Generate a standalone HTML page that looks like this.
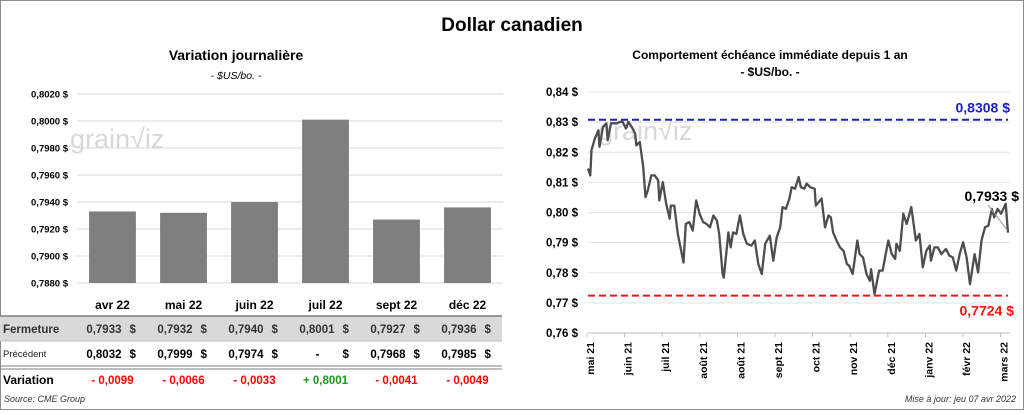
<!DOCTYPE html>
<html><head><meta charset="utf-8"><style>
body{margin:0;width:1024px;height:410px;overflow:hidden;background:#fff;font-family:"Liberation Sans",sans-serif}
svg text{font-family:"Liberation Sans",sans-serif}
</style></head><body>
<svg id="s" width="1024" height="410" viewBox="0 0 1024 410" xmlns="http://www.w3.org/2000/svg">
<rect x="0.5" y="0.5" width="1023" height="409" fill="#fff" stroke="#8c8c8c"/>
<text x="512" y="31" text-anchor="middle" font-size="19" font-weight="bold" fill="#000">Dollar canadien</text>
<text x="236" y="60" text-anchor="middle" font-size="14" font-weight="bold">Variation  journalière</text>
<text x="236" y="79" text-anchor="middle" font-size="10.5" font-style="italic">- $US/bo. -</text>
<text x="770" y="59" text-anchor="middle" font-size="12" font-weight="bold">Comportement échéance immédiate depuis 1 an</text>
<text x="770" y="76" text-anchor="middle" font-size="12" font-weight="bold">- $US/bo. -</text>
<g id="left"></g>
<g id="right"></g>
<g id="tbl"></g>
<text x="4" y="402" font-size="9" font-style="italic" fill="#333">Source: CME Group</text>
<text x="1016" y="402" text-anchor="end" font-size="9" font-style="italic" fill="#333">Mise à jour: jeu 07 avr 2022</text>
</svg>
<script>
const barCats=["avr 22","mai 22","juin 22","juil 22","sept 22","déc 22"];
const closeVals=[0.7933,0.7932,0.7940,0.8001,0.7927,0.7936];
const prevVals=["0,8032","0,7999","0,7974","-","0,7968","0,7985"];
const varLabels=["- 0,0099","- 0,0066","- 0,0033","+ 0,8001","- 0,0041","- 0,0049"];
const barTicks=[0.7880,0.7900,0.7920,0.7940,0.7960,0.7980,0.8000,0.8020];
const lineDays=[0,2,3,6,9,10,13,16,17,20,25,28,30,33,35,38,41,42,45,48,50,52,55,58,61,62,65,68,71,72,75,78,83,85,88,91,94,97,100,103,106,109,112,114,117,118,122,124,126,129,132,135,138,142,145,148,151,154,158,161,164,167,169,172,175,177,180,183,185,188,190,193,197,198,203,206,209,211,213,216,219,222,225,227,230,234,236,239,242,245,246,249,253,256,261,264,267,268,271,274,277,281,285,288,291,294,297,298,301,304,307,311,314,317,320,323,326,329,332,336,339,342,345,348,351,353,356,359,363,365];
const lineVals=[0.8146,0.8123,0.8207,0.8246,0.8273,0.8218,0.8284,0.8296,0.8240,0.8296,0.8296,0.8301,0.8301,0.8279,0.8301,0.8284,0.8262,0.8223,0.8234,0.8151,0.8051,0.8073,0.8123,0.8123,0.8107,0.8040,0.8101,0.8029,0.7979,0.8023,0.8023,0.7929,0.7834,0.7962,0.7968,0.7940,0.8040,0.7996,0.7968,0.7962,0.7951,0.7990,0.7973,0.7929,0.7796,0.7784,0.7934,0.7884,0.7934,0.7929,0.7990,0.7929,0.7896,0.7890,0.7907,0.7829,0.7796,0.7896,0.7923,0.7840,0.7918,0.7951,0.8018,0.8012,0.8046,0.8084,0.8079,0.8118,0.8084,0.8079,0.8096,0.8084,0.8079,0.8023,0.8046,0.7951,0.7990,0.7984,0.7934,0.7907,0.7884,0.7873,0.7829,0.7823,0.7796,0.7907,0.7862,0.7851,0.7796,0.7773,0.7812,0.7729,0.7807,0.7807,0.7907,0.7862,0.7846,0.7896,0.7873,0.7996,0.7962,0.8018,0.7907,0.7929,0.7818,0.7873,0.7890,0.7840,0.7884,0.7884,0.7862,0.7879,0.7857,0.7851,0.7807,0.7862,0.7901,0.7851,0.7762,0.7862,0.7801,0.7907,0.7951,0.7957,0.8012,0.7984,0.8012,0.7996,0.8029,0.7933];
const lineTicks=[0.76,0.77,0.78,0.79,0.80,0.81,0.82,0.83,0.84];
const monthLabels=["mai 21","juin 21","juil 21","août 21","août 21","sept 21","oct 21","nov 21","déc 21","janv 22","févr 22","mars 22"];
const hiVal=0.8308, loVal=0.7724, lastVal=0.7933;

const NS="http://www.w3.org/2000/svg";
function mk(tag,attrs,parent,txt){const e=document.createElementNS(NS,tag);for(const k in attrs)e.setAttribute(k,attrs[k]);if(txt!==undefined)e.textContent=txt;parent.appendChild(e);return e;}
const fmt=(v,d)=>v.toFixed(d).replace('.',',');

// left bar chart
const L=document.getElementById('left');
const bx0=77,bx1=503,by=v=>283-(v-0.7880)/0.0140*189;
const bw=(bx1-bx0)/barCats.length;
barTicks.forEach(t=>{
 const g=mk('line',{x1:bx0,x2:bx1,y1:by(t),y2:by(t),stroke:'#d9d9d9','stroke-width':1},L);
 
 
 const tx=mk('text',{x:68,y:by(t)+3.5,'text-anchor':'end','font-size':9.5,'font-weight':'bold'},L,fmt(t,4)+' $');
 
 
});
mk('text',{x:70,y:148,'font-size':27,fill:'#d8d8d8'},L,'grain√iz');
closeVals.forEach((v,i)=>{
 const x=bx0+bw*i+bw*0.17;
 const r=mk('rect',{x:x,y:by(v),width:bw*0.66,height:by(0.7880)-by(v),fill:'#7f7f7f'},L);
 
 
});

// table
const T=document.getElementById('tbl');
const r1=mk('rect',{x:0,y:316,width:502,height:25,fill:'#d9d9d9'},T);


mk('line',{x1:0,x2:502,y1:316,y2:316,stroke:'#7f7f7f','stroke-width':1.5},T);
mk('line',{x1:0,x2:502,y1:341,y2:341,stroke:'#bfbfbf'},T);
mk('line',{x1:0,x2:502,y1:366,y2:366,stroke:'#7f7f7f','stroke-width':1},T);
mk('line',{x1:0,x2:502,y1:369,y2:369,stroke:'#7f7f7f','stroke-width':1},T);
mk('text',{x:3,y:333,'font-size':11.5,'font-weight':'bold',fill:'#333'},T,'Fermeture');
mk('text',{x:3,y:357,'font-size':9.5,fill:'#222'},T,'Précédent');
mk('text',{x:3,y:384,'font-size':12,'font-weight':'bold'},T,'Variation');
barCats.forEach((c,i)=>{
 const cx=bx0+bw*(i+0.5);
 const h=mk('text',{x:cx,y:309,'text-anchor':'middle','font-size':12,'font-weight':'bold'},T,c);
 
 
 const f=mk('text',{x:cx+9,y:333,'text-anchor':'end','font-size':11.5,'font-weight':'bold',fill:'#333'},T,fmt(closeVals[i],4));
 
 
 mk('text',{x:cx+17,y:333,'font-size':11.5,'font-weight':'bold',fill:'#333'},T,'$');
 const p=mk('text',{x:prevVals[i]==='-'?cx-6:cx+9,y:358,'text-anchor':'end','font-size':11.5,'font-weight':'bold'},T,prevVals[i]);
 
 
 mk('text',{x:cx+17,y:358,'font-size':11.5,'font-weight':'bold'},T,'$');
 const vv=mk('text',{x:cx,y:384,'text-anchor':'middle','font-size':11.5,'font-weight':'bold',fill:varLabels[i][0]==='+'?'#1a9a1a':'#ff0000'},T,varLabels[i]);
 
 
});

// right line chart
const R=document.getElementById('right');
const lx0=588,lx1=1008,ly=v=>333-(v-0.76)/0.08*241;
const lxd=d=>lx0+d/365*(lx1-lx0);
lineTicks.forEach(t=>{
 const g=mk('line',{x1:588,x2:1010,y1:ly(t),y2:ly(t),stroke:t===0.76?'#bfbfbf':'#e3e3e3','stroke-width':1},R);
 
 
 const tx=mk('text',{x:578,y:ly(t)+4,'text-anchor':'end','font-size':11.5,'font-weight':'bold'},R,fmt(t,2)+' $');
 
 
});
mk('text',{x:598,y:140,'font-size':27,fill:'#d8d8d8'},R,'grain√iz');
monthLabels.forEach((m,i)=>{
 const x=587+i*37.6;
 mk('line',{x1:x,x2:x,y1:333,y2:337,stroke:'#bfbfbf'},R);
 const t=mk('text',{transform:`translate(${x+7},342) rotate(-90)`,'text-anchor':'end','font-size':10.5,'font-weight':'bold'},R,m);
 
 
});
const hi=mk('line',{x1:588,x2:1008,y1:ly(hiVal),y2:ly(hiVal),stroke:'#2020c0','stroke-width':2,'stroke-dasharray':'7,4'},R);


const lo=mk('line',{x1:588,x2:1008,y1:ly(loVal),y2:ly(loVal),stroke:'#ff1010','stroke-width':2,'stroke-dasharray':'7,4'},R);


mk('text',{x:1010,y:ly(hiVal)-7,'text-anchor':'end','font-size':14,'font-weight':'bold',fill:'#2020c0'},R,fmt(hiVal,4)+' $');
mk('text',{x:1014,y:ly(loVal)+20,'text-anchor':'end','font-size':14,'font-weight':'bold',fill:'#ff1010'},R,fmt(loVal,4)+' $');
const pts=lineVals.map((v,i)=>lxd(lineDays[i]).toFixed(1)+','+ly(v).toFixed(1)).join(' ');
const pl=mk('polyline',{points:pts,fill:'none',stroke:'#4d4d4d','stroke-width':2.3,'stroke-linejoin':'round'},R);


mk('line',{x1:988,y1:205,x2:1007,y2:ly(lastVal)-3,stroke:'#999','stroke-width':1},R);
mk('text',{x:1019,y:201,'text-anchor':'end','font-size':14,'font-weight':'bold'},R,fmt(lastVal,4)+' $');
</script>
</body></html>
